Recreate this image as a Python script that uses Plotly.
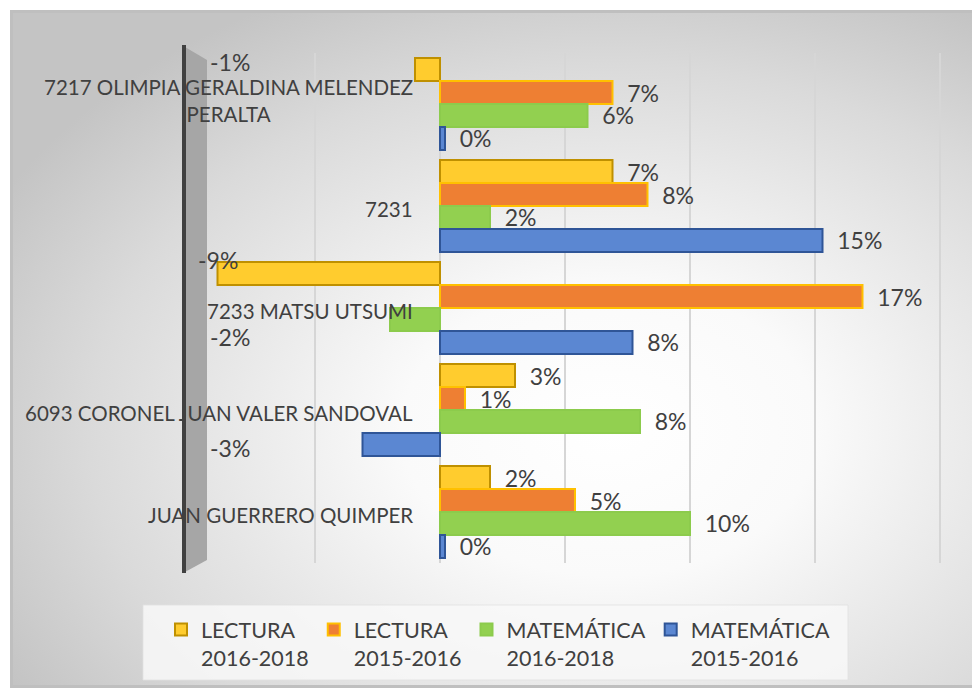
import base64
import plotly.graph_objects as go

# ---------------- data ----------------
categories = [
    "7217 OLIMPIA GERALDINA MELENDEZ PERALTA",
    "7231",
    "7233 MATSU UTSUMI",
    "6093 CORONEL JUAN VALER SANDOVAL",
    "JUAN GUERRERO QUIMPER",
]
category_labels = [
    "7217 OLIMPIA GERALDINA MELENDEZ<br>PERALTA",
    "7231",
    "7233 MATSU UTSUMI",
    "6093 CORONEL JUAN VALER SANDOVAL",
    "JUAN GUERRERO QUIMPER",
]
series_names = ["LECTURA<br>2016-2018", "LECTURA<br>2015-2016",
                "MATEMÁTICA<br>2016-2018", "MATEMÁTICA<br>2015-2016"]
lectura_2016_2018 = [-0.010, 0.069, -0.089, 0.030, 0.020]
lectura_2015_2016 = [0.069, 0.083, 0.169, 0.010, 0.054]
matematica_2016_2018 = [0.059, 0.020, -0.020, 0.080, 0.100]
matematica_2015_2016 = [0.002, 0.153, 0.077, -0.031, 0.002]
series_values = [lectura_2016_2018, lectura_2015_2016,
                 matematica_2016_2018, matematica_2015_2016]

# ---------------- styles ----------------
fills = ["#FFCC2E", "#EE7F33", "#92D050", "#5B87D2"]
lines = ["#BF9000", "#FFC000", "#8CCB4C", "#2F5597"]
TXT = "#404040"
FONT = "Lato"

W, H = 980, 690
OFF = 8  # page body margin
# plot area in screen pixels
PX0, PX1, PY0, PY1 = 183, 955, 53, 563
PW, PH = PX1 - PX0, PY1 - PY0
L, R, T, B = PX0 - OFF, W - (PX1 - OFF), PY0 - OFF, H - (PY1 - OFF)


def px2x(px):
    return (px - PX0) / PW


def px2y(py):
    return (PY1 - py) / PH


def pct(v):
    r = int(round(v * 100))
    return f"{r if r != 0 else 0}%"


fig = go.Figure()
for k, (name, vals) in enumerate(zip(series_names, series_values)):
    labels = [pct(v) for v in vals]
    texts = ["\u00a0\u00a0" + t for t in labels]
    tpos = ["outside" if not t.startswith("-") else "none" for t in labels]
    fig.add_trace(go.Bar(
        y=categories, x=vals, orientation="h", name=name,
        marker=dict(color=fills[k], line=dict(color=lines[k], width=2)),
        text=texts, textposition=tpos, constraintext="none",
        textfont=dict(size=23, color=TXT, family=FONT),
        cliponaxis=False, hoverinfo="skip",
    ))

annotations = []
# category labels next to the zero line (y given as category index)
for i, lab in enumerate(category_labels):
    annotations.append(dict(
        x=0, y=i, xref="x", yref="y", text=lab, showarrow=False,
        xanchor="right", yanchor="middle", align="center", xshift=-25,
        yshift=(4 if "<br>" in lab else -3),
        font=dict(size=20.5, color=TXT, family=FONT)))
# labels of negative bars (placed near the left wall as in Excel 3D)
bar_px = PH / len(categories) * 0.9 / 4
extra = [8, 0, -18, -4]
for k, vals in enumerate(series_values):
    for i, v in enumerate(vals):
        lab = pct(v)
        if lab.startswith("-"):
            annotations.append(dict(
                x=min(-0.084, v), y=i, xref="x", yref="y", text=lab, showarrow=False,
                xanchor="center", yanchor="middle",
                yshift=(1.5 - k) * bar_px + extra[k] + (6 if v < -0.05 else 0),
                font=dict(size=23, color=TXT, family=FONT)))

# background gradient (chart area) as an SVG image
bx0, by0, bx1, by1 = 10, 10, 977, 688
bw, bh = bx1 - bx0, by1 - by0
svg = f"""<svg xmlns='http://www.w3.org/2000/svg' width='{bw}' height='{bh}' viewBox='0 0 {bw} {bh}' preserveAspectRatio='none'>
<defs><radialGradient id='g' cx='0.62' cy='0.62' r='0.72'>
<stop offset='0' stop-color='#ffffff'/><stop offset='0.3' stop-color='#fafafa'/>
<stop offset='0.75' stop-color='#dadada'/><stop offset='1' stop-color='#c4c4c4'/></radialGradient></defs>
<rect x='1.5' y='1.5' width='{bw-3}' height='{bh-3}' fill='url(#g)' stroke='#bfbfbf' stroke-width='3'/></svg>"""
uri = "data:image/svg+xml;base64," + base64.b64encode(svg.encode()).decode()

images = [dict(source=uri, xref="paper", yref="paper", x=px2x(bx0), y=px2y(by0),
               sizex=bw / PW, sizey=bh / PH, sizing="stretch", layer="below",
               xanchor="left", yanchor="top")]

shapes = [
    # 3D side wall
    dict(type="path", xref="paper", yref="paper", layer="below",
         path=f"M {px2x(185)},{px2y(47)} L {px2x(207)},{px2y(60)} L {px2x(207)},{px2y(560)} L {px2x(185)},{px2y(572)} Z",
         fillcolor="#a6a6a6", line=dict(width=0)),
    dict(type="line", xref="paper", yref="paper", layer="below",
         x0=px2x(184), x1=px2x(184), y0=px2y(45), y1=px2y(573),
         line=dict(color="#404040", width=4)),
    # legend box
    dict(type="rect", xref="paper", yref="paper", layer="below",
         x0=px2x(143), x1=px2x(848), y0=px2y(605), y1=px2y(680),
         fillcolor="rgba(248,248,248,0.85)", line=dict(color="rgba(225,225,225,0.8)", width=1)),
]

fig.update_layout(
    width=W, height=H,
    margin=dict(l=L, r=R, t=T, b=B),
    paper_bgcolor="white", plot_bgcolor="rgba(0,0,0,0)",
    barmode="group", bargap=0.1, bargroupgap=0,
    font=dict(family=FONT, color=TXT),
    xaxis=dict(range=[-0.1028, 0.206], tickvals=[-0.05, 0, 0.05, 0.1, 0.15, 0.2],
               showticklabels=False, showgrid=True, gridcolor="#d6d6d6", gridwidth=2,
               zeroline=False, showline=False, fixedrange=True),
    yaxis=dict(type="category", categoryorder="array", categoryarray=categories,
               range=[len(categories) - 0.5, -0.5], autorange=False,
               showticklabels=False, showgrid=False,
               zeroline=False, showline=False, fixedrange=True),
    legend=dict(orientation="h", x=px2x(161), y=px2y(609), xanchor="left", yanchor="top",
                bgcolor="rgba(0,0,0,0)", font=dict(size=21.5, color=TXT, family=FONT),
                itemwidth=30, traceorder="normal", valign="top"),
    annotations=annotations, images=images, shapes=shapes,
    showlegend=True,
)

fig.write_html("out.html")
